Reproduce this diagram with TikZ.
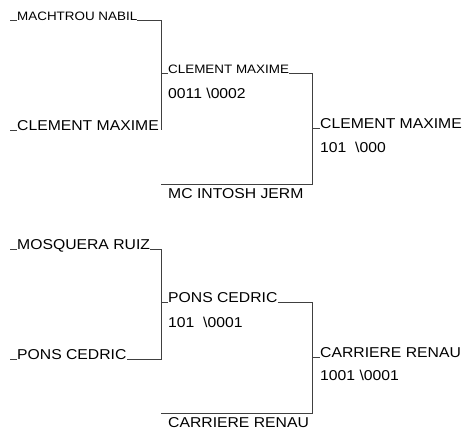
\documentclass[tikz,border=0pt]{standalone}
\usepackage{fontspec}
\setmainfont{Liberation Sans}[FakeStretch=1.1]
\usetikzlibrary{positioning}

\newcommand{\bignames}{\fontsize{14.3}{16}\selectfont}
\newcommand{\smallnames}{\fontsize{12.2}{13}\selectfont}

\tikzset{
    entry/.style={anchor=base west, inner sep=0pt, font=\bignames},
    small entry/.style={entry, font=\smallnames},
    score/.style={anchor=base west, inner sep=0pt, font=\bignames},
    bracket/.style={draw=black!75, line width=0.7pt}
}

\begin{document}
\begin{tikzpicture}[x=1pt,y=-1pt]

\useasboundingbox (0,0) rectangle (463,429);
\clip (0,0) rectangle (463,429);

% Upper bracket: first round
\node[small entry] (machtrou) at (17,20) {MACHTROU NABIL};
\node[entry] (clement a) at (17,130) {CLEMENT MAXIME};
\coordinate (machtrou start) at (10,20);
\coordinate (clement a start) at (10,130);
\coordinate (upper top) at (161,20);
\coordinate (upper bottom) at (161,130);
\draw[bracket] (machtrou start) -- (machtrou.base west);
\draw[bracket] (clement a start) -- (clement a.base west);
\draw[bracket] (machtrou.base east) -- (upper top) -- (upper bottom);

% Upper bracket: second round
\node[small entry] (clement b) at (168,73) {CLEMENT MAXIME};
\node[score] (score b) at (168,98) {0011 \textbackslash0002};
\node[entry] (mcintosh) at (168,198) {MC INTOSH JERM};
\coordinate (clement b start) at (161,73);
\coordinate (upper final top) at (312,73);
\coordinate (upper final bottom) at (312,184);
\coordinate (mcintosh start) at (161,184);
\draw[bracket] (clement b start) -- (clement b.base west);
\draw[bracket] (clement b.base east) -- (upper final top) -- (upper final bottom) -- (mcintosh start);

% Upper bracket: winner
\node[entry] (clement c) at (320,128) {CLEMENT MAXIME};
\node[score] (score c) at (320,152) {101\ \ \textbackslash000};
\coordinate (clement c start) at (312,128);
\draw[bracket] (clement c start) -- (clement c.base west);

% Lower bracket: first round
\node[entry] (mosquera) at (17,249) {MOSQUERA RUIZ};
\node[entry] (pons a) at (17,359) {PONS CEDRIC};
\coordinate (mosquera start) at (10,249);
\coordinate (pons a start) at (10,359);
\coordinate (lower top) at (161,249);
\coordinate (lower bottom) at (161,359);
\draw[bracket] (mosquera start) -- (mosquera.base west);
\draw[bracket] (pons a start) -- (pons a.base west);
\draw[bracket] (mosquera.base east) -- (lower top) -- (lower bottom) -- (pons a.base east);

% Lower bracket: second round
\node[entry] (pons b) at (168,302) {PONS CEDRIC};
\node[score] (score pons) at (168,327) {101\ \ \textbackslash0001};
\node[entry] (carriere a) at (168,427) {CARRIERE RENAU};
\coordinate (pons b start) at (161,302);
\coordinate (lower final top) at (312,302);
\coordinate (lower final bottom) at (312,413);
\coordinate (carriere a start) at (161,413);
\draw[bracket] (pons b start) -- (pons b.base west);
\draw[bracket] (pons b.base east) -- (lower final top) -- (lower final bottom) -- (carriere a start);

% Lower bracket: winner
\node[entry] (carriere b) at (320,357) {CARRIERE RENAU};
\node[score] (score carriere) at (320,380) {1001 \textbackslash0001};
\coordinate (carriere b start) at (312,357);
\draw[bracket] (carriere b start) -- (carriere b.base west);

\end{tikzpicture}
\end{document}
